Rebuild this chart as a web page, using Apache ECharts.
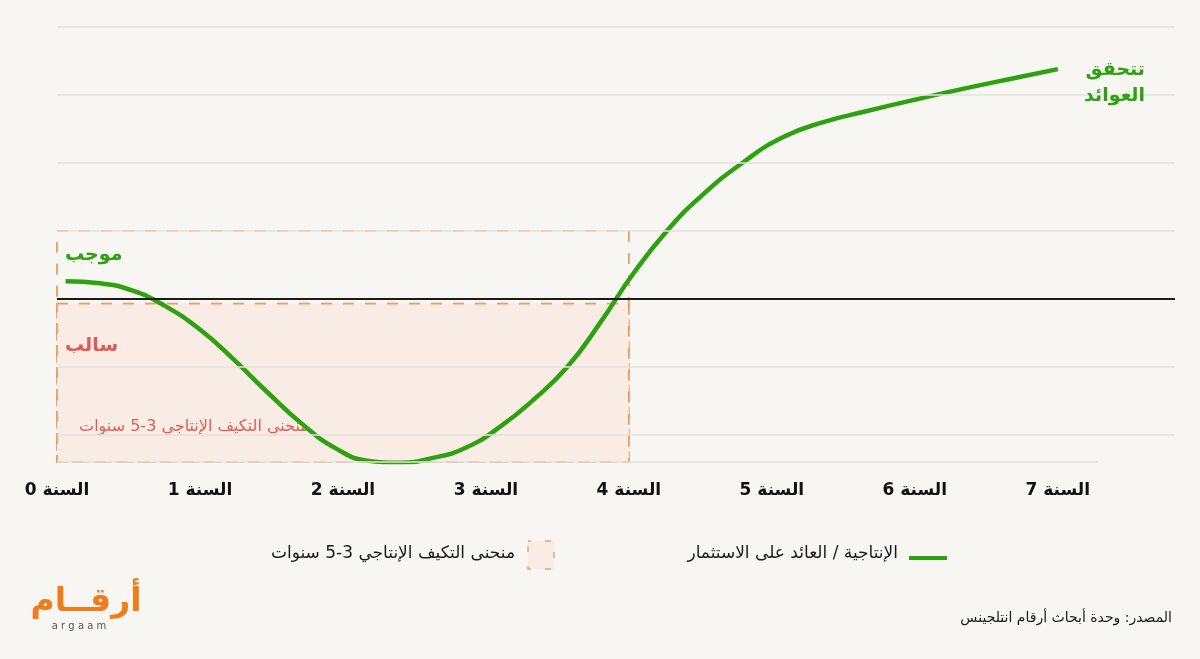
<!DOCTYPE html>
<html>
<head>
<meta charset="utf-8">
<title>منحنى التكيف الإنتاجي</title>
<script src="https://cdn.jsdelivr.net/npm/echarts@6/dist/echarts.min.js"></script>
<style>
	html, body { margin: 0; padding: 0; background: #f8f6f3; }
	#main { width: 1200px; height: 659px; }
</style>
</head>
<body>
<div id="main"></div>
<script type="text/javascript">
	// السنوات على المحور الأفقي
	var years = [0, 1, 2, 3, 4, 5, 6, 7];
	var yearLabels = ['السنة 0', 'السنة 1', 'السنة 2', 'السنة 3', 'السنة 4', 'السنة 5', 'السنة 6', 'السنة 7'];

	// منحنى الإنتاجية / العائد على الاستثمار (قراءة تقريبية من الصورة)
	var curveX = [0.06, 0.3, 0.53, 0.76, 1.0, 1.23, 1.47, 1.72, 1.95, 2.17, 2.4, 2.63, 2.87, 3.1, 3.33, 3.57, 3.8, 4.03, 4.27, 4.5, 4.8, 5.08, 5.36, 5.66, 6.0, 6.36, 6.7, 7.0];
	var curveY = [0.26, 0.23, 0.12, -0.11, -0.45, -0.88, -1.37, -1.85, -2.2, -2.38, -2.41, -2.34, -2.18, -1.88, -1.49, -1.0, -0.35, 0.37, 1.01, 1.5, 2.01, 2.38, 2.6, 2.76, 2.93, 3.1, 3.25, 3.38];

	// خطوط الشبكة الأفقية
	var gridLevels = [4, 3, 2, 1, -1, -2];

	// فترة التكيف 3-5 سنوات
	var adaptYears = [0, 4];
	var adaptOuter = [1, -2.4];
	var adaptInner = [-0.07, -2.4];

	var green = '#2da10f';
	var orange = '#f19a5a';
	var font = 'DejaVu Sans';

	var chart = echarts.init(document.getElementById('main'));

	var curveData = curveX.map(function (x, i) { return [x, curveY[i]]; });

	var option = {
		backgroundColor: '#f8f6f3',
		animation: false,
		grid: { left: 57, right: 25, top: 27, bottom: 197 },
		xAxis: {
			type: 'value',
			min: 0,
			max: 7.82,
			interval: 1,
			axisLine: { show: false },
			axisTick: { show: false },
			splitLine: { show: false },
			axisLabel: {
				margin: 20,
				fontFamily: font,
				fontSize: 17,
				fontWeight: 'bold',
				color: '#111',
				formatter: function (v) {
					return yearLabels[years.indexOf(v)] || '';
				}
			}
		},
		yAxis: {
			type: 'value',
			min: -2.4,
			max: 4,
			axisLine: { show: false },
			axisTick: { show: false },
			axisLabel: { show: false },
			splitLine: { show: false }
		},
		series: [
			{
				// الشبكة وخط الصفر والمربع المتقطع
				type: 'line',
				data: [],
				z: 1,
				silent: true,
				markLine: {
					symbol: 'none',
					silent: true,
					label: { show: false },
					data: gridLevels.map(function (v) {
						return { yAxis: v, lineStyle: { color: '#e6e1dc', width: 1.5, type: 'solid' } };
					}).concat([
						{ yAxis: 0, lineStyle: { color: '#1a1a1a', width: 2, type: 'solid' } },
						[
							{ coord: [0, -2.4], lineStyle: { color: '#e6e1dc', width: 1.5, type: 'solid' } },
							{ coord: [7.28, -2.4] }
						]
					])
				},
				markArea: {
					silent: true,
					data: [
						[
							{
								coord: [adaptYears[0], adaptOuter[0]],
								itemStyle: { color: 'rgba(0,0,0,0)', borderColor: orange, borderWidth: 1.8, borderType: [11, 11] }
							},
							{ coord: [adaptYears[1], adaptOuter[1]] }
						],
						[
							{
								coord: [adaptYears[0], adaptInner[0]],
								itemStyle: { color: '#f8ece5', borderColor: orange, borderWidth: 1.8, borderType: [11, 11] },
								label: {
									show: true,
									position: [23, 124],
									align: 'left',
									verticalAlign: 'middle',
									formatter: 'منحنى التكيف الإنتاجي 3-5 سنوات',
									fontFamily: font,
									fontSize: 16,
									color: '#e25c57'
								}
							},
							{ coord: [adaptYears[1], adaptInner[1]] }
						]
					]
				}
			},
			{
				name: 'الإنتاجية / العائد على الاستثمار',
				type: 'line',
				z: 3,
				data: curveData,
				smooth: 0.5,
				showSymbol: false,
				lineStyle: { color: green, width: 4.5, cap: 'butt' }
			}
		],
		graphic: [
			// تسميات داخل الرسم
			{ type: 'text', z: 10, style: { text: 'موجب', x: 65, y: 255, align: 'left', verticalAlign: 'middle', font: 'bold 19px "DejaVu Sans"', fill: green } },
			{ type: 'text', z: 10, style: { text: 'سالب', x: 65, y: 346, align: 'left', verticalAlign: 'middle', font: 'bold 19px "DejaVu Sans"', fill: '#e05a57' } },
			{ type: 'text', z: 10, style: { text: 'تتحقق', x: 1145, y: 70, align: 'right', verticalAlign: 'middle', font: 'bold 19px "DejaVu Sans"', fill: green } },
			{ type: 'text', z: 10, style: { text: 'العوائد', x: 1145, y: 96, align: 'right', verticalAlign: 'middle', font: 'bold 19px "DejaVu Sans"', fill: green } },
			// وسيلة الإيضاح
			{ type: 'rect', z: 10, shape: { x: 909, y: 556, width: 38, height: 4 }, style: { fill: green } },
			{ type: 'text', z: 10, style: { text: 'الإنتاجية / العائد على الاستثمار', x: 898, y: 554, align: 'right', verticalAlign: 'middle', font: '17px "DejaVu Sans"', fill: '#1a1a1a' } },
			{ type: 'rect', z: 10, shape: { x: 528, y: 541, width: 26, height: 28 }, style: { fill: '#f8ece5', stroke: orange, lineWidth: 1.3, lineDash: [6, 14], lineDashOffset: 3 } },
			{ type: 'text', z: 10, style: { text: 'منحنى التكيف الإنتاجي 3-5 سنوات', x: 515, y: 554, align: 'right', verticalAlign: 'middle', font: '17px "DejaVu Sans"', fill: '#1a1a1a' } },
			// الشعار والمصدر
			{ type: 'text', z: 10, style: { text: 'أرقــام', x: 86, y: 602, align: 'center', verticalAlign: 'middle', font: 'bold 33px "DejaVu Sans"', fill: '#f07c1a' } },
			{ type: 'text', z: 10, style: { text: 'a r g a a m', x: 79, y: 626, align: 'center', verticalAlign: 'middle', font: '10px "DejaVu Sans"', fill: '#555' } },
			{ type: 'text', z: 10, style: { text: 'المصدر: وحدة أبحاث أرقام انتلجينس', x: 1172, y: 618, align: 'right', verticalAlign: 'middle', font: '14px "DejaVu Sans"', fill: '#1a1a1a' } }
		]
	};

	chart.setOption(option);
</script>
</body>
</html>
